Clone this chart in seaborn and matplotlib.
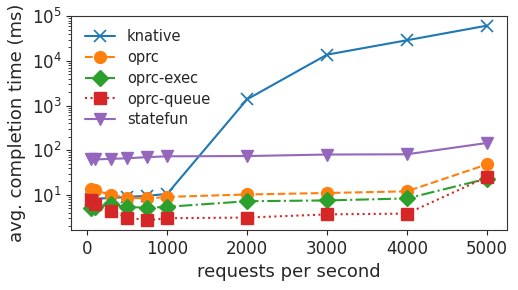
import matplotlib
matplotlib.use("Agg")
import matplotlib.pyplot as plt
import seaborn as sns
import pandas as pd

rps = [50, 100, 300, 500, 750, 1000, 2000, 3000, 4000, 5000]
knative = [8.0, 8.2, 8.5, 9.0, 9.5, 10.5, 1380, 13800, 29000, 61500]
oprc = [13.8, 12.6, 10.0, 8.6, 8.3, 9.0, 10.2, 11.0, 12.0, 48.0]
oprc_exec = [5.2, 5.4, 6.1, 5.4, 5.1, 5.4, 7.2, 7.5, 8.3, 23.0]
oprc_queue = [7.6, 6.2, 4.3, 3.1, 2.7, 3.0, 3.1, 3.65, 3.8, 25.0]
statefun = [62, 62, 64, 66, 70, 73, 74, 80, 81, 145]

series = {
    "knative": knative,
    "oprc": oprc,
    "oprc-exec": oprc_exec,
    "oprc-queue": oprc_queue,
    "statefun": statefun,
}

sns.set_style("ticks")
plt.rcParams["font.family"] = ["DejaVu Sans"]
plt.rcParams["font.size"] = 12

colors = ["#1f77b4", "#ff7f0e", "#2ca02c", "#d62728", "#9467bd"]
markers = ["x", "o", "D", "s", "v"]
linestyles = ["-", "--", "-.", ":", "-"]
msizes = [8.5, 8.5, 8, 8, 9]

fig, ax = plt.subplots(figsize=(5.18, 2.9), dpi=100)
fig.subplots_adjust(left=0.138, right=0.978, top=0.945, bottom=0.207)

for (name, vals), c, m, ls, ms in zip(series.items(), colors, markers, linestyles, msizes):
    df = pd.DataFrame({"rps": rps, "val": vals})
    sns.lineplot(data=df, x="rps", y="val", ax=ax, color=c, marker=m,
                 linestyle=ls, markersize=ms, markeredgecolor=c,
                 markeredgewidth=1.2 if m == "x" else 1.0, linewidth=1.5,
                 label=name)

ax.set_yscale("log")
ax.set_xticks([0, 1000, 2000, 3000, 4000, 5000])
ax.set_xlabel("requests per second", fontsize=13)
ax.set_ylabel("avg. completion time (ms)", fontsize=13)
ax.tick_params(labelsize=12)
for s in ax.spines.values():
    s.set_color("#333333")
ax.legend(loc="upper left", frameon=False, fontsize=10.5, handlelength=2.1,
          labelspacing=0.4)

fig.savefig("out.png", dpi=100)
